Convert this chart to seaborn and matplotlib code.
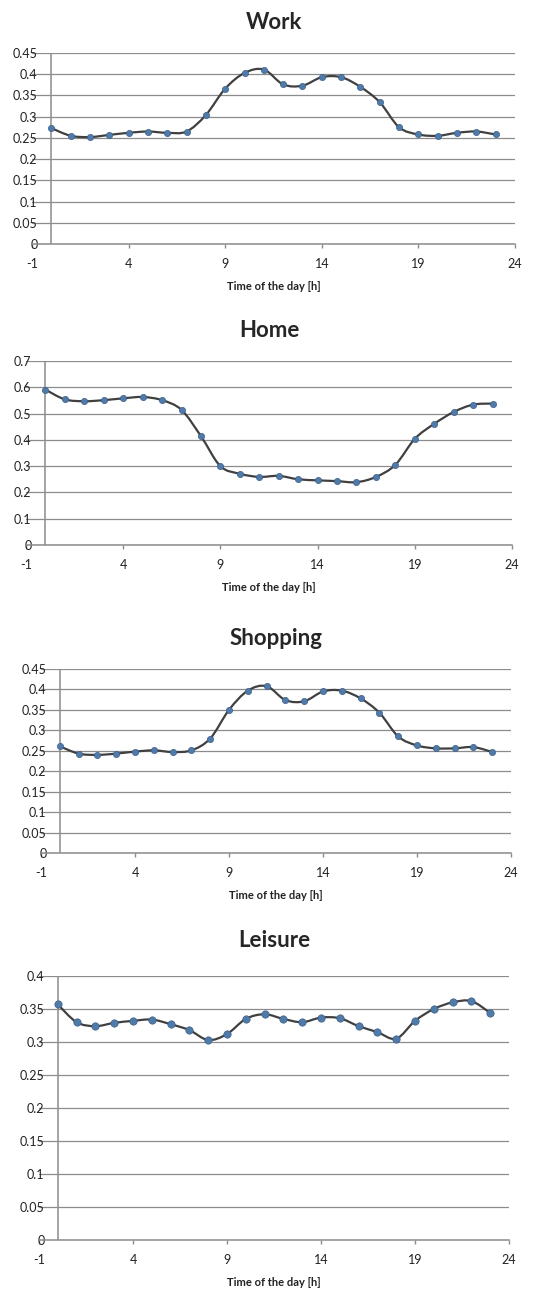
import numpy as np
import pandas as pd
import matplotlib
matplotlib.use("Agg")
import matplotlib.pyplot as plt
from matplotlib.path import Path
from matplotlib.patches import PathPatch
import seaborn as sns

# hourly share of trips by purpose
hours = list(range(24))
work = [0.273, 0.255, 0.252, 0.257, 0.262, 0.265, 0.262, 0.265, 0.304, 0.366, 0.403, 0.411,
        0.376, 0.373, 0.393, 0.393, 0.370, 0.334, 0.275, 0.258, 0.255, 0.262, 0.265, 0.258]
home = [0.591, 0.554, 0.547, 0.551, 0.558, 0.563, 0.551, 0.514, 0.414, 0.300, 0.271, 0.259,
        0.263, 0.250, 0.246, 0.243, 0.239, 0.259, 0.305, 0.404, 0.461, 0.506, 0.534, 0.538]
shopping = [0.261, 0.243, 0.240, 0.243, 0.248, 0.251, 0.247, 0.251, 0.280, 0.350, 0.397, 0.408,
            0.374, 0.371, 0.395, 0.397, 0.378, 0.343, 0.285, 0.263, 0.256, 0.256, 0.259, 0.247]
leisure = [0.357, 0.330, 0.324, 0.329, 0.332, 0.334, 0.327, 0.318, 0.303, 0.312, 0.335, 0.342,
           0.335, 0.330, 0.337, 0.336, 0.324, 0.315, 0.305, 0.332, 0.350, 0.360, 0.362, 0.344]

titles = ['Work', 'Home', 'Shopping', 'Leisure']
series = [work, home, shopping, leisure]
ytops = [0.45, 0.7, 0.45, 0.4]
ysteps = [0.05, 0.1, 0.05, 0.05]
xticks = [-1, 4, 9, 14, 19, 24]

# plot area boxes in pixels: left, right, top, bottom
boxes = [(32, 515, 53, 244), (26, 512, 361, 545), (41, 511, 669, 853), (39, 509, 976, 1240)]
msizes = [20, 20, 20, 28]

W, H = 555, 1293
sns.set_style("white")
plt.rcParams['font.family'] = ['Lato', 'DejaVu Sans']

GRID = '#8c8c8c'
LINE = '#404040'
MARK = '#4f7bab'


def smooth_path(x, y):
    # excel style smoothed line: bezier through every point
    x = np.asarray(x, float)
    y = np.asarray(y, float)
    n = len(x)
    verts = [(x[0], y[0])]
    codes = [Path.MOVETO]
    for i in range(n - 1):
        i0 = max(i - 1, 0)
        i3 = min(i + 2, n - 1)
        c1 = (x[i] + (x[i + 1] - x[i0]) / 6, y[i] + (y[i + 1] - y[i0]) / 6)
        c2 = (x[i + 1] - (x[i3] - x[i]) / 6, y[i + 1] - (y[i3] - y[i]) / 6)
        verts += [c1, c2, (x[i + 1], y[i + 1])]
        codes += [Path.CURVE4] * 3
    return Path(verts, codes)


fig = plt.figure(figsize=(W / 100, H / 100), dpi=100)

for title, vals, ytop, ystep, box, ms in zip(titles, series, ytops, ysteps, boxes, msizes):
    l, r, t, b = box
    ax = fig.add_axes([l / W, 1 - b / H, (r - l) / W, (b - t) / H])
    df = pd.DataFrame({'hour': hours, 'share': vals})

    ax.add_patch(PathPatch(smooth_path(df['hour'], df['share']), fill=False,
                           edgecolor=LINE, lw=1.6, zorder=3))
    sns.scatterplot(data=df, x='hour', y='share', ax=ax, s=ms, color=MARK,
                    edgecolor='#3d5f86', linewidth=0.5, zorder=4)

    ax.set_xlim(-1, 24)
    ax.set_ylim(0, ytop)
    yt = np.round(np.arange(0, ytop + ystep / 2, ystep), 2)
    ax.set_yticks(yt)
    ax.set_yticklabels([f"{v:g}" for v in yt])
    ax.set_xticks(xticks)
    ax.set_xticklabels([str(v) for v in xticks])

    ax.yaxis.grid(True, color=GRID, lw=0.9)
    ax.set_axisbelow(True)
    ax.axvline(0, color=GRID, lw=1.1, zorder=2)
    for s in ['left', 'top', 'right']:
        ax.spines[s].set_visible(False)
    ax.spines['bottom'].set_color(GRID)
    ax.spines['bottom'].set_linewidth(1.1)

    ax.tick_params(axis='y', length=0, pad=-4, labelsize=9, labelcolor='#222222')
    ax.tick_params(axis='x', length=3, width=1, color=GRID, direction='out', pad=7,
                   labelsize=9, labelcolor='#222222', bottom=True)

    ax.set_xlabel('Time of the day [h]', fontsize=8, fontweight='bold', labelpad=8, color='#222222')
    ax.set_ylabel('')
    ax.set_title(title, fontsize=16, fontweight='bold', pad=17 if title != 'Leisure' else 21)

fig.savefig('out.png', dpi=100)
